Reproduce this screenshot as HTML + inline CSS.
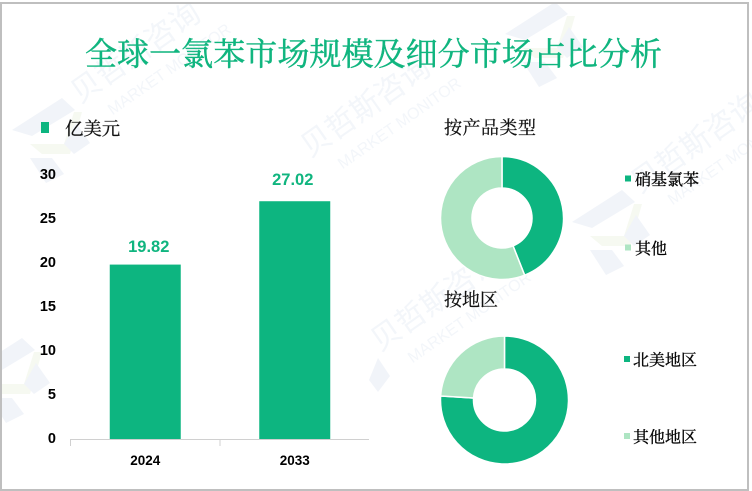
<!DOCTYPE html>
<html lang="zh">
<head>
<meta charset="utf-8">
<title>全球一氯苯市场规模及细分市场占比分析</title>
<style>
html,body{margin:0;padding:0;background:#fff;overflow:hidden;}
#stage{display:block;width:752px;height:491px;}
.cjk{font-family:"Liberation Serif","Noto Serif CJK SC",serif;}
.num{font-family:"Liberation Sans","DejaVu Sans",sans-serif;font-weight:bold;}
.wm{font-family:"Liberation Sans","Noto Sans CJK SC",sans-serif;fill:#f3f6fa;}
</style>
</head>
<body>
<svg id="stage" xmlns="http://www.w3.org/2000/svg" width="752" height="491" viewBox="0 0 752 491">
  <rect x="0" y="0" width="752" height="491" fill="#ffffff"/>
  <g id="watermarks"></g>
  <rect x="1" y="3" width="747" height="487" fill="none" stroke="#bfbfbf" stroke-width="2"/>
  <text class="cjk" x="85" y="65" font-size="32" fill="#10b57f" stroke="#10b57f" stroke-width="0.45" textLength="577">全球一氯苯市场规模及细分市场占比分析</text>

  <rect x="41" y="122" width="8" height="11" fill="#0db580"/>
  <text class="cjk" x="65" y="135" font-size="18.4" fill="#111" stroke="#111" stroke-width="0.25">亿美元</text>

  <g id="bar-chart"></g>

  <text class="cjk" x="444" y="134" font-size="18" fill="#111" stroke="#111" stroke-width="0.25" textLength="92">按产品类型</text>
  <g id="donut-product"></g>
  <g id="legend-product"></g>

  <text class="cjk" x="444" y="306" font-size="18" fill="#111" stroke="#111" stroke-width="0.25">按地区</text>
  <g id="donut-region"></g>
  <g id="legend-region"></g>
</svg>
<script>
// ---- Chart data ----
const barCategories = ['2024', '2033'];
const barValues = [19.82, 27.02];
const yTickLabels = [0, 5, 10, 15, 20, 25, 30];
const productLabels = ['硝基氯苯', '其他'];
const productShares = [44, 56];
const regionLabels = ['北美地区', '其他地区'];
const regionShares = [76, 24];

const NS = 'http://www.w3.org/2000/svg';
const DARK = '#0db580';
const LIGHT = '#aee5c3';

function make(tag, attrs, parent, text) {
  const el = document.createElementNS(NS, tag);
  for (const k in attrs) el.setAttribute(k, attrs[k]);
  if (text !== undefined) el.textContent = text;
  parent.appendChild(el);
  return el;
}

// ---- Bar chart ----
const plot = { x0: 70.5, x1: 369, y0: 439, yTop: 175, yMax: 30 };
function yScale(v) { return plot.y0 - (v / plot.yMax) * (plot.y0 - plot.yTop); }
function bandStart(i) { return plot.x0 + i * 149.5; }
const bandWidth = 149.5;
const barWidth = 71;
function valueLabelDx(i) { return i === 0 ? 3.5 : -2; }
function valueLabelGap(i) { return i === 0 ? 12.5 : 16; }

const barRoot = document.getElementById('bar-chart');

yTickLabels.forEach(function (t) {
  const el = make('text', { x: 56, y: yScale(t) + 4.2, 'text-anchor': 'end', 'font-size': 14.5, fill: '#000', class: 'num' }, barRoot, String(t));
  
  
});

barCategories.forEach(function (c, i) {
  const cx = bandStart(i) + bandWidth / 2;
  const top = yScale(barValues[i]);
  const bar = make('rect', { x: cx - barWidth / 2, y: top, width: barWidth, height: plot.y0 - top, fill: DARK }, barRoot);
  
  

  const val = make('text', { x: cx + valueLabelDx(i), y: top - valueLabelGap(i), 'text-anchor': 'middle', 'font-size': 16.5, fill: '#10b57f', class: 'num' }, barRoot, barValues[i].toFixed(2));
  
  

  const lab = make('text', { x: cx, y: 465, 'text-anchor': 'middle', 'font-size': 13.5, fill: '#000', class: 'num' }, barRoot, c);
  
  
});

const axis = make('line', { x1: plot.x0, x2: plot.x1, y1: plot.y0 + 0.5, y2: plot.y0 + 0.5, stroke: '#d0d0d0', 'stroke-width': 1 }, barRoot);



for (let i = 0; i <= barCategories.length - 1; i++) {
  const tx = bandStart(i);
  const tick = make('line', { x1: tx, x2: tx, y1: plot.y0, y2: plot.y0 + 7, stroke: '#d0d0d0', 'stroke-width': 1 }, barRoot);
  
  
}

// ---- Donuts ----
function drawDonut(root, shares, labels, cx, cy, rOuter, rInner) {
  const total = shares.reduce(function (a, b) { return a + b; }, 0);
  let acc = 0;
  shares.forEach(function (s, i) {
    const a0 = acc / total * 2 * Math.PI;
    acc += s;
    const a1 = acc / total * 2 * Math.PI;
    const large = (a1 - a0) > Math.PI ? 1 : 0;
    const p = function (r, a) { return (cx + r * Math.sin(a)).toFixed(2) + ' ' + (cy - r * Math.cos(a)).toFixed(2); };
    const d = 'M' + p(rOuter, a0) + ' A' + rOuter + ' ' + rOuter + ' 0 ' + large + ' 1 ' + p(rOuter, a1) +
              ' L' + p(rInner, a1) + ' A' + rInner + ' ' + rInner + ' 0 ' + large + ' 0 ' + p(rInner, a0) + ' Z';
    const slice = make('path', { d: d, fill: i === 0 ? DARK : LIGHT, stroke: '#ffffff', 'stroke-width': 1.5 }, root);
    
    
  });
}
drawDonut(document.getElementById('donut-product'), productShares, productLabels, 502, 218, 61.5, 30);
drawDonut(document.getElementById('donut-region'), regionShares, regionLabels, 504.5, 400, 64, 31);

// ---- Legends ----
function drawLegend(root, labels, swatchX, textX, ys) {
  labels.forEach(function (l, i) {
    const sw = make('rect', { x: swatchX, y: ys[i] - 3.5, width: 6, height: 6, fill: i === 0 ? DARK : LIGHT }, root);
    
    
    const t = make('text', { x: textX, y: ys[i] + 6, 'font-size': 16, fill: '#000', stroke: '#000', 'stroke-width': 0.3, class: 'cjk' }, root, l);
    
    
  });
}
drawLegend(document.getElementById('legend-product'), productLabels, 625, 635, [179, 248]);
drawLegend(document.getElementById('legend-region'), regionLabels, 624, 633, [359.5, 436.5]);

// ---- Watermarks ----
const wmRoot = document.getElementById('watermarks');
function wmText(x, y) {
  const g = make('g', { transform: 'translate(' + x + ' ' + y + ') rotate(-35)' }, wmRoot);
  
  
  make('text', { x: 0, y: 0, 'font-size': 30, class: 'wm' }, g, '贝哲斯咨询');
  make('text', { x: 20, y: 28, 'font-size': 16, class: 'wm' }, g, 'MARKET MONITOR');
}
function wmLogo(x, y) {
  const g = make('g', { transform: 'translate(' + x + ' ' + y + ')' }, wmRoot);
  
  
  make('polygon', { points: '0,32 50,0 63,12 20,38', fill: '#f1f4f9' }, g);
  make('polygon', { points: '18,46 52,46 62,14 70,14 58,56 30,56', fill: '#f6f9f1' }, g);
  make('polygon', { points: '64,25 78,45 62,56 52,46', fill: '#f1f4f9' }, g);
  make('polygon', { points: '18,60 40,60 52,76 34,85', fill: '#f1f4f9' }, g);
}
wmText(80, 104);
wmText(310, 158);
wmText(640, 194);
wmText(380, 352);
wmLogo(12, 98);
wmLogo(505, 2);
wmLogo(572, 190);
wmLogo(-28, 338);

const wmShard = make('polygon', { points: '378,358 390,376 378,392 369,380', fill: '#f1f4f9' }, wmRoot);


</script>
</body>
</html>
